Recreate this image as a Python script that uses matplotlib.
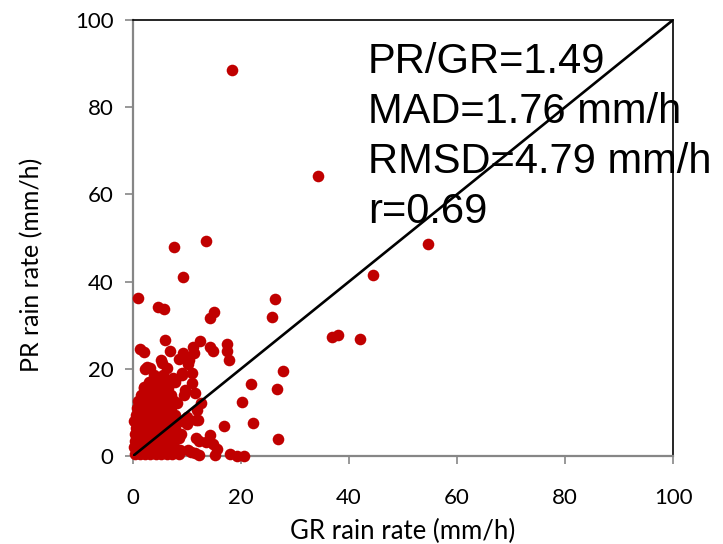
import matplotlib

matplotlib.use("Agg")
import matplotlib.pyplot as plt
import numpy as np

# scattered points (GR, PR) in mm/h
gr_sparse = [18.3, 34.3, 13.5, 7.6, 9.3, 54.6, 44.4, 36.9, 38.0, 42.0,
             0.9, 4.6, 5.8, 15.0, 14.3, 26.3, 25.7,
             1.3, 2.0, 5.9, 6.8, 12.4, 11.1, 11.3, 14.3, 14.8, 17.4, 17.4, 17.8,
             9.3, 8.5, 10.4, 5.2,
             2.2, 3.1, 6.3, 9.1, 10.9, 7.4, 10.9, 2.0,
             27.8, 21.9, 26.6, 20.2, 16.9, 22.2, 26.9,
             11.7, 12.2, 14.3, 14.8, 15.6, 8.5, 18.0, 19.2, 20.6, 10.7, 12.2, 8.7, 10.0, 11.8,
             2.6, 5.4, 10.2, 4.8, 7.8, 11.5, 9.6, 8.1, 12.6, 10.0, 12.0,
             11.7, 13.6, 10.2, 11.5, 15.2]
pr_sparse = [88.5, 64.2, 49.4, 47.9, 41.0, 48.6, 41.5, 27.3, 27.8, 26.8,
             36.2, 34.2, 33.7, 33.0, 31.7, 36.0, 31.9,
             24.5, 23.9, 26.7, 24.1, 26.4, 25.0, 23.6, 25.0, 24.1, 25.7, 24.1, 22.0,
             23.6, 22.2, 22.0, 22.0,
             20.0, 20.2, 20.2, 19.0, 19.0, 17.9, 16.7, 15.8,
             19.5, 16.6, 15.4, 12.4, 6.9, 7.6, 3.8,
             8.3, 3.4, 4.8, 2.8, 1.6, 4.1, 0.5, 0.0, 0.0, 0.9, 0.2, 1.4, 7.3, 10.5,
             20.4, 21.3, 21.0, 16.8, 17.4, 14.4, 15.1, 12.2, 12.2, 8.9, 8.2,
             4.1, 3.2, 1.4, 0.7, 0.2]

# dense cluster near the origin
gr_dense = [0.3, 1.2, 2.2, 3.2, 4.2, 5.2, 6.2, 7.2, 8.5,
            0.9, 2.1, 3.3, 4.5, 5.7, 6.9,
            0.2, 1.5, 2.7, 3.9, 5.1, 6.3, 7.5,
            0.9, 2.1, 3.3, 4.5, 5.7, 6.9,
            0.4, 1.6, 2.8, 4.0, 5.2, 6.4, 7.6,
            0.9, 2.1, 3.3, 4.5, 5.7, 6.9,
            0.3, 1.4, 2.6, 3.8, 5.0, 6.2, 7.4, 8.8,
            0.9, 2.1, 3.3, 4.5, 5.7, 6.9,
            0.5, 1.7, 2.9, 4.1, 5.3, 6.5, 7.7,
            0.9, 2.1, 3.3, 4.5, 5.7, 6.9,
            0.2, 1.3, 2.5, 3.7, 4.9, 6.1, 7.3, 9.0,
            0.9, 2.1, 3.3, 4.5, 5.7, 6.9,
            0.6, 1.8, 3.0, 4.2, 5.4, 6.6, 7.8,
            1.3, 2.5, 3.7, 4.9, 6.1,
            0.8, 2.0, 3.3, 4.6, 5.8, 7.0,
            1.0, 2.4, 3.6, 5.0, 6.3, 7.5,
            1.5, 2.8, 4.2, 5.6, 7.0, 9.5,
            2.0, 3.5, 5.0, 6.4,
            3.0, 4.4, 5.8, 7.8,
            3.8, 5.5, 9.0]
pr_dense = [0.5, 0.5, 0.5, 0.5, 0.5, 0.5, 0.5, 0.5, 0.5,
            1.2, 1.2, 1.2, 1.2, 1.2, 1.2,
            2.0, 2.0, 2.0, 2.0, 2.0, 2.0, 2.0,
            2.8, 2.8, 2.8, 2.8, 2.8, 2.8,
            3.5, 3.5, 3.5, 3.5, 3.5, 3.5, 3.5,
            4.2, 4.2, 4.2, 4.2, 4.2, 4.2,
            5.0, 5.0, 5.0, 5.0, 5.0, 5.0, 5.0, 5.0,
            5.8, 5.8, 5.8, 5.8, 5.8, 5.8,
            6.5, 6.5, 6.5, 6.5, 6.5, 6.5, 6.5,
            7.2, 7.2, 7.2, 7.2, 7.2, 7.2,
            8.0, 8.0, 8.0, 8.0, 8.0, 8.0, 8.0, 8.0,
            8.8, 8.8, 8.8, 8.8, 8.8, 8.8,
            9.5, 9.5, 9.5, 9.5, 9.5, 9.5, 9.5,
            10.2, 10.2, 10.2, 10.2, 10.2,
            11.0, 11.0, 11.0, 11.0, 11.0, 11.0,
            12.5, 12.5, 12.5, 12.5, 12.5, 12.5,
            14.0, 14.0, 14.0, 14.0, 14.0, 14.0,
            15.5, 15.5, 15.5, 15.5,
            17.0, 17.0, 17.0, 17.0,
            18.5, 18.5, 18.5]

stats_lines = ["PR/GR=1.49", "MAD=1.76 mm/h", "RMSD=4.79 mm/h", "r=0.69"]
ticks = [0, 20, 40, 60, 80, 100]

AXIS_GREY = "#868686"
RED = "#C00000"
TICK_FONT = ["Lato", "DejaVu Sans"]

fig = plt.figure(figsize=(7.23, 5.44), dpi=100)
ax = fig.add_axes([0.184, 0.1618, 0.7469, 0.8015])

gr = np.array(gr_dense + gr_sparse)
pr = np.array(pr_dense + pr_sparse)
ax.scatter(gr, pr, s=70, color=RED, linewidths=0, zorder=3, clip_on=False)
ax.plot([0, 100], [0, 100], color="black", lw=1.9, zorder=4)

ax.set_xlim(0, 100)
ax.set_ylim(0, 100)
ax.set_xticks(ticks)
ax.set_yticks(ticks)

for side in ("left", "bottom"):
    ax.spines[side].set_color(AXIS_GREY)
    ax.spines[side].set_linewidth(1.6)
for side in ("top", "right"):
    ax.spines[side].set_color("black")
    ax.spines[side].set_linewidth(1.2)

ax.tick_params(direction="out", length=6, width=1.2, color=AXIS_GREY,
               labelsize=16, pad=8)
ax.tick_params(axis="x", pad=17)
for lab in ax.get_xticklabels() + ax.get_yticklabels():
    lab.set_family(TICK_FONT)

ax.set_xlabel("GR rain rate (mm/h)", fontsize=18.5, family=TICK_FONT, va="center")
ax.set_ylabel("PR rain rate (mm/h)", fontsize=18, family=TICK_FONT, va="center")
ax.xaxis.set_label_coords(0.5, -0.172)
ax.yaxis.set_label_coords(-0.187, 0.438)

for i, line in enumerate(stats_lines):
    ax.text(0.435, 0.878 - i * 0.1147, line, transform=ax.transAxes,
            fontsize=30, family=["Liberation Sans", "DejaVu Sans"],
            va="baseline", ha="left", zorder=5)

fig.savefig("out.png", dpi=100)
